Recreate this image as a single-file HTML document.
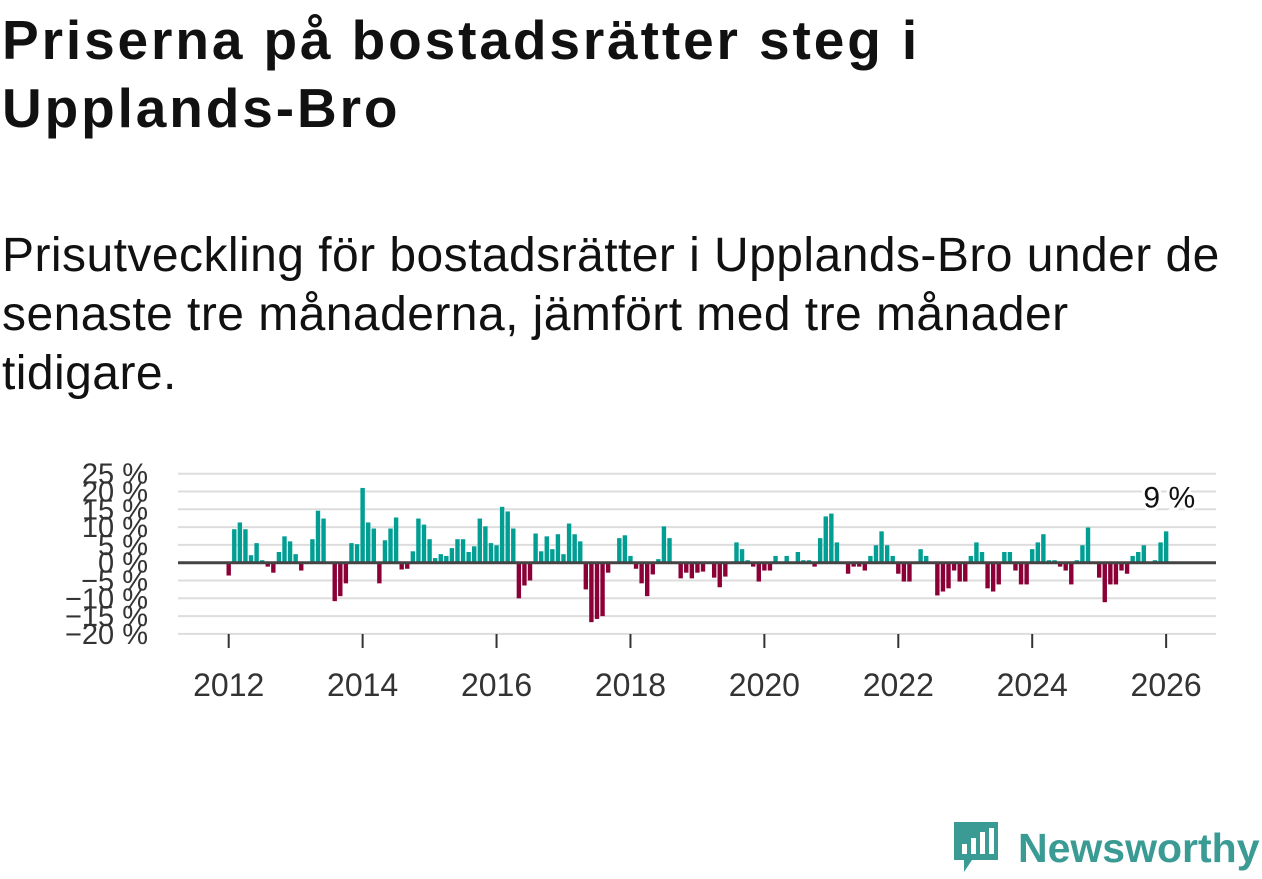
<!DOCTYPE html>
<html><head><meta charset="utf-8"><style>
body{margin:0;width:1262px;height:879px;background:#fff;font-family:"Liberation Sans",sans-serif;overflow:hidden;position:relative}
h1{position:absolute;left:2px;top:6px;margin:0;font-size:55px;line-height:68px;font-weight:bold;color:#111;letter-spacing:2.9px;white-space:nowrap}
p.sub{position:absolute;left:2px;top:226px;margin:0;font-size:48px;line-height:59px;color:#111;width:1250px;letter-spacing:0.45px}
</style></head><body>
<h1>Priserna på bostadsrätter steg i<br>Upplands-Bro</h1>
<p class="sub">Prisutveckling för bostadsrätter i Upplands-Bro under de<br>senaste tre månaderna, jämfört med tre månader<br>tidigare.</p>
<svg id="chart" width="1262" height="879" style="position:absolute;left:0;top:0"></svg>
<div style="position:absolute;left:952px;top:818px;display:flex;align-items:center">
<svg width="50" height="60"><path d="M2 4h44v38H20l-8 12v-12H2z" fill="#3a9a94"/><rect x="10" y="26" width="5" height="10" fill="#fff"/><rect x="19" y="20" width="5" height="16" fill="#fff"/><rect x="28" y="14" width="5" height="22" fill="#fff"/><rect x="37" y="10" width="5" height="26" fill="#fff"/></svg>
<span style="font-size:41px;font-weight:bold;color:#3a9a94;margin-left:16px">Newsworthy</span></div>
<script>
const startYear = 2012;
const values = [-3.6,9.4,11.3,9.4,2.1,5.5,0.7,-1.1,-2.8,3.0,7.4,6.0,2.4,-2.2,0.2,6.6,14.6,12.4,0.2,-10.8,-9.4,-5.8,5.5,5.2,21.0,11.3,9.6,-5.8,6.3,9.6,12.7,-1.9,-1.7,3.2,12.4,10.7,6.6,1.3,2.4,1.9,4.1,6.6,6.6,3.0,4.6,12.4,10.2,5.5,4.9,15.7,14.4,9.6,-10.0,-6.4,-5.0,8.2,3.2,7.4,3.8,8.0,2.4,11.0,8.0,6.0,-7.5,-16.7,-15.8,-15.0,-2.8,0,6.9,7.7,1.9,-1.7,-5.8,-9.4,-3.3,1.0,10.2,6.9,0,-4.4,-2.8,-4.4,-2.8,-2.5,0,-4.2,-6.9,-3.9,0,5.7,3.8,0.7,-1.1,-5.3,-2.2,-2.2,1.9,0,1.9,0,3.0,0.7,0.7,-1.1,6.9,13.0,13.8,5.7,0,-3.1,-1.1,-1.1,-2.2,1.9,4.9,8.8,4.9,1.9,-3.1,-5.3,-5.3,0,3.8,1.9,0,-9.2,-8.1,-7.2,-2.2,-5.3,-5.3,1.9,5.7,3.0,-7.2,-8.1,-6.1,3.0,3.0,-2.2,-6.1,-6.1,3.8,5.7,8.0,0.7,0.7,-1.1,-2.2,-6.1,0.7,4.9,9.9,0,-4.2,-11.1,-6.1,-6.1,-2.2,-3.1,1.9,3.0,4.9,0,0.7,5.7,8.8];
const yTicks = [25,20,15,10,5,0,-5,-10,-15,-20];
const xTicks = [2012,2014,2016,2018,2020,2022,2024,2026];
const lastLabel = "9 %";
const svg = document.getElementById('chart');
const NS = 'http://www.w3.org/2000/svg';
const y = v => 562.7 - v * 3.56;
const x = m => 228.7 + m * 5.58;
function mk(t, a){const e=document.createElementNS(NS,t);for(const k in a)e.setAttribute(k,a[k]);svg.appendChild(e);return e;}
yTicks.forEach(t=>{
  const l=mk('line',{x1:178,x2:1216,y1:y(t),y2:y(t),stroke:'#ddd','stroke-width':2});
  
  
  const tx=mk('text',{x:148,y:y(t)+10,'text-anchor':'end','font-size':29,fill:'#333','font-family':'Liberation Sans, sans-serif'});
  tx.textContent=(t<0?'\u2212'+(-t):t)+' %';
  
  
});
xTicks.forEach(yr=>{
  const xx=x((yr-startYear)*12);
  const l=mk('line',{x1:xx,x2:xx,y1:634,y2:648,stroke:'#333','stroke-width':2});
  
  
  const tx=mk('text',{x:xx,y:696,'text-anchor':'middle','font-size':32,fill:'#333','font-family':'Liberation Sans, sans-serif'});
  tx.textContent=yr;
  
  
});
values.forEach((v,i)=>{
  const r=mk('rect',{x:x(i)-2.2,width:4.4,y:Math.min(y(v),y(0)),height:Math.abs(y(v)-y(0)),fill:v>=0?'#009e93':'#8c0038'});
  
  
});
const z=mk('line',{x1:178,x2:1216,y1:y(0),y2:y(0),stroke:'#444','stroke-width':3});


const lab=mk('text',{x:x(values.length-1)+29,y:y(18)+9,'text-anchor':'end','font-size':30,fill:'#111','font-family':'Liberation Sans, sans-serif',stroke:'#fff','stroke-width':6,'paint-order':'stroke'});
lab.textContent=lastLabel;


</script>
</body></html>
